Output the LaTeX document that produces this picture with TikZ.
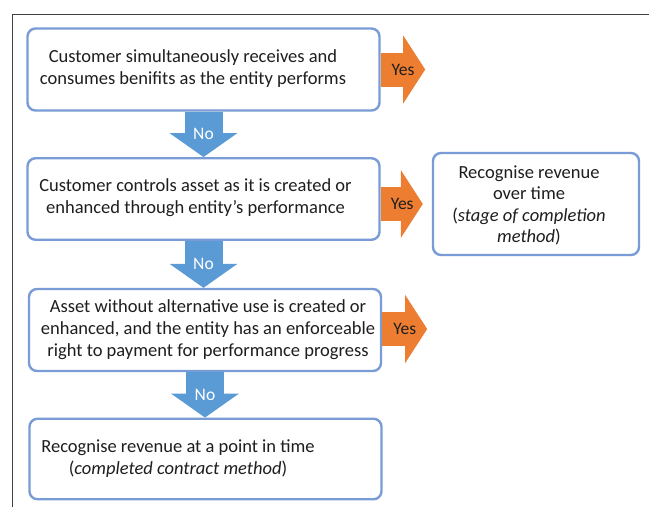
\documentclass[tikz,border=0pt]{standalone}
\usepackage{fontspec}
\setmainfont{Carlito}
\usepackage{tikz}
\usetikzlibrary{arrows.meta}
\definecolor{BoxLine}{HTML}{7A9CD6}
\definecolor{NoBlue}{HTML}{5B9BD5}
\definecolor{YesOrange}{HTML}{ED7D31}
\definecolor{FrameGray}{HTML}{404040}
\definecolor{TextDark}{HTML}{1E1E1E}

\begin{document}
\begin{tikzpicture}[x=1pt, y=-1pt,
  stepbox/.style={draw=BoxLine, line width=2.4pt, rounded corners=8pt, fill=white,
    minimum width=352pt, minimum height=82pt, inner sep=0pt},
  steptext/.style={align=center, text=TextDark, inner sep=0pt,
    font=\fontsize{18.5}{22}\selectfont},
  noarrow/.style={draw=NoBlue, line width=38pt,
    -{Triangle[width=68pt, length=24pt, line width=0pt]}},
  yesarrow/.style={draw=YesOrange, line width=34pt,
    -{Triangle[width=68pt, length=22pt, line width=0pt]}},
  notext/.style={text=white, inner sep=0pt, font=\fontsize{17.5}{20}\selectfont},
  yestext/.style={text=TextDark, inner sep=0pt, font=\fontsize{17.5}{20}\selectfont}]

  \useasboundingbox (0,0) rectangle (649,507);

  % frame
  \draw[FrameGray, line width=0.9pt] (649,14) -- (12,14) -- (12,507);

  % decision boxes
  \node[stepbox] (simult) at (203.5,69.5) {};
  \node[steptext] (simulttext) at (193,69)
    {Customer simultaneously receives and\\consumes benifits as the entity performs};

  \node[stepbox, minimum height=81.5pt] (control) at (203.5,199) {};
  \node[steptext] (controltext) at (195.5,198)
    {Customer controls asset as it is created or\\enhanced through entity’s performance};

  \node[stepbox] (altuse) at (205,330) {};
  \node[steptext] (altusetext) at (208,330)
    {Asset without alternative use is created or\\enhanced, and the entity has an enforceable\\right to payment for performance progress};

  % outcomes
  \node[stepbox, minimum height=80.5pt] (point) at (205.5,459) {};
  \node[steptext] (pointtext) at (178,459)
    {Recognise revenue at a point in time\\(\textit{completed contract method})};

  \node[stepbox, minimum width=206pt, minimum height=102pt] (overtime) at (536,204) {};
  \node[steptext, font=\fontsize{18.5}{21.5}\selectfont] (overtimetext) at (529,205.5)
    {Recognise revenue\\over time\\(\textit{stage of completion}\\\textit{method})};

  % no arrows
  \draw[noarrow] (simult.south) -- (simult.south |- control.north)
    node[notext, midway] (no1) {No};
  \draw[noarrow] (control.south) -- (control.south |- altuse.north)
    node[notext, midway] (no2) {No};
  \draw[noarrow] (altuse.south) -- (altuse.south |- point.north)
    node[notext, midway] (no3) {No};

  % yes arrows
  \draw[yesarrow] (simult.east) -- ++(44.5,0) coordinate (simultyes)
    node[yestext, midway] (yes1) {Yes};
  \draw[yesarrow, shorten >=9pt] (control.east |- overtime.west) -- (overtime.west)
    node[yestext, pos=0.42] (yes2) {Yes};
  \draw[yesarrow] ([yshift=1pt]altuse.east) -- ++(45,0) coordinate (altuseyes)
    node[yestext, midway] (yes3) {Yes};
\end{tikzpicture}
\end{document}
